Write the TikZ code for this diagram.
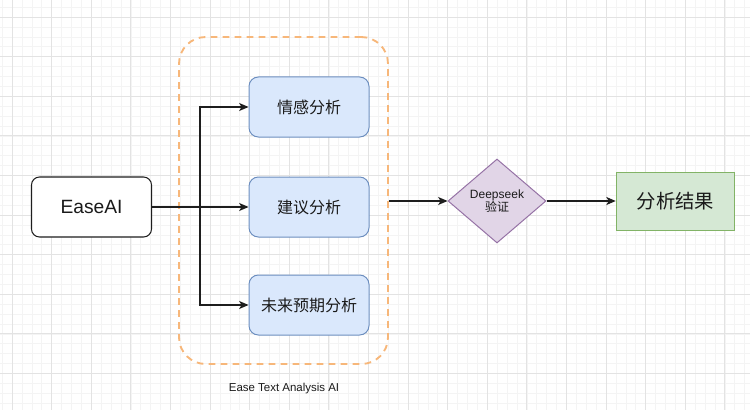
\documentclass[tikz,border=0pt]{standalone}
\usepackage{fontspec}
\setmainfont{Liberation Sans}
\newfontfamily\cjk{Noto Sans CJK SC}
\usetikzlibrary{arrows.meta,shapes.geometric}
\definecolor{bluefill}{HTML}{DAE8FC}
\definecolor{bluedraw}{HTML}{6C8EBF}
\definecolor{greenfill}{HTML}{D5E8D4}
\definecolor{greendraw}{HTML}{82B366}
\definecolor{purfill}{HTML}{E1D5E7}
\definecolor{purdraw}{HTML}{9673A6}
\definecolor{orangedash}{HTML}{F7B77A}
\definecolor{gridmajor}{HTML}{E3E3E3}
\definecolor{gridminor}{HTML}{F4F4F4}
\definecolor{txt}{HTML}{1A1A1A}
\definecolor{linec}{HTML}{1E1E1E}
\tikzset{
  basebox/.style={rectangle, rounded corners=6pt, draw=linec, line width=0.8pt, fill=white,
    minimum width=90pt, minimum height=45pt, inner sep=0pt, text=txt},
  bluebox/.style={rectangle, rounded corners=7pt, draw=bluedraw, line width=0.75pt, fill=bluefill,
    minimum width=90pt, minimum height=45pt, inner sep=0pt, text=txt,
    font=\cjk\fontsize{12}{14}\selectfont},
  resbox/.style={rectangle, draw=greendraw, line width=0.75pt, fill=greenfill,
    minimum width=89pt, minimum height=44pt, inner sep=0pt, text=txt,
    font=\cjk\fontsize{14.5}{16}\selectfont},
  checkbox/.style={diamond, draw=purdraw, line width=0.75pt, fill=purfill, aspect=1.17,
    minimum width=73.5pt, minimum height=63pt, inner sep=0pt, text=txt, align=center,
    font=\fontsize{9}{11}\selectfont},
  groupbox/.style={rectangle, rounded corners=20pt, draw=orangedash, line width=1.4pt,
    dash pattern=on 5pt off 4pt, minimum width=156.75pt, minimum height=245.25pt, inner sep=0pt},
  arr/.style={draw=linec, line width=0.85pt, -{Stealth[length=7pt,width=6pt,inset=1.8pt]}},
}
\begin{document}
\begin{tikzpicture}[x=0.75pt,y=-0.75pt]
\useasboundingbox (0,0) rectangle (750,410);
\fill[white] (0,0) rectangle (750,410);
% grid
\foreach \i in {0,...,76} {
  \draw[gridminor, line width=0.4pt] ({2.1+9.9*\i},0) -- ({2.1+9.9*\i},410);
}
\foreach \i in {0,...,42} {
  \draw[gridminor, line width=0.4pt] (0,{7.1+9.9*\i}) -- (750,{7.1+9.9*\i});
}
\foreach \i in {0,...,18} {
  \draw[gridmajor, line width=0.6pt] ({12+39.6*\i},0) -- ({12+39.6*\i},410);
}
\foreach \i in {0,...,10} {
  \draw[gridmajor, line width=0.6pt] (0,{17+39.6*\i}) -- (750,{17+39.6*\i});
}
% group
\node[groupbox] (grp) at (283.5,200.5) {};
\node[text=txt, font=\fontsize{8.6}{10}\selectfont] (grplabel) at (284,389) {Ease Text Analysis AI};
% nodes
\node[basebox, font=\fontsize{14.4}{16}\selectfont] (ease) at (91.5,207) {EaseAI};
\node[bluebox] (b1) at (309,107) {情感分析};
\node[bluebox] (b2) at (309,207) {建议分析};
\node[bluebox] (b3) at (309,305) {未来预期分析};
\node[checkbox] (chk) at (497,201) {Deepseek\\[-1pt]{\cjk 验证}};
\node[resbox] (res) at (675.5,201.5) {分析结果};
\coordinate (jn) at (200,207);
% connectors
\draw[arr] (ease.east) -- (b2.west);
\draw[arr] (ease.east) -- (jn) |- (b1.west);
\draw[arr] (ease.east) -- (jn) |- (b3.west);
\draw[arr] (grp.east |- chk.west) -- (chk.west);
\draw[arr] (chk.east) -- (chk.east -| res.west);
\end{tikzpicture}
\end{document}
